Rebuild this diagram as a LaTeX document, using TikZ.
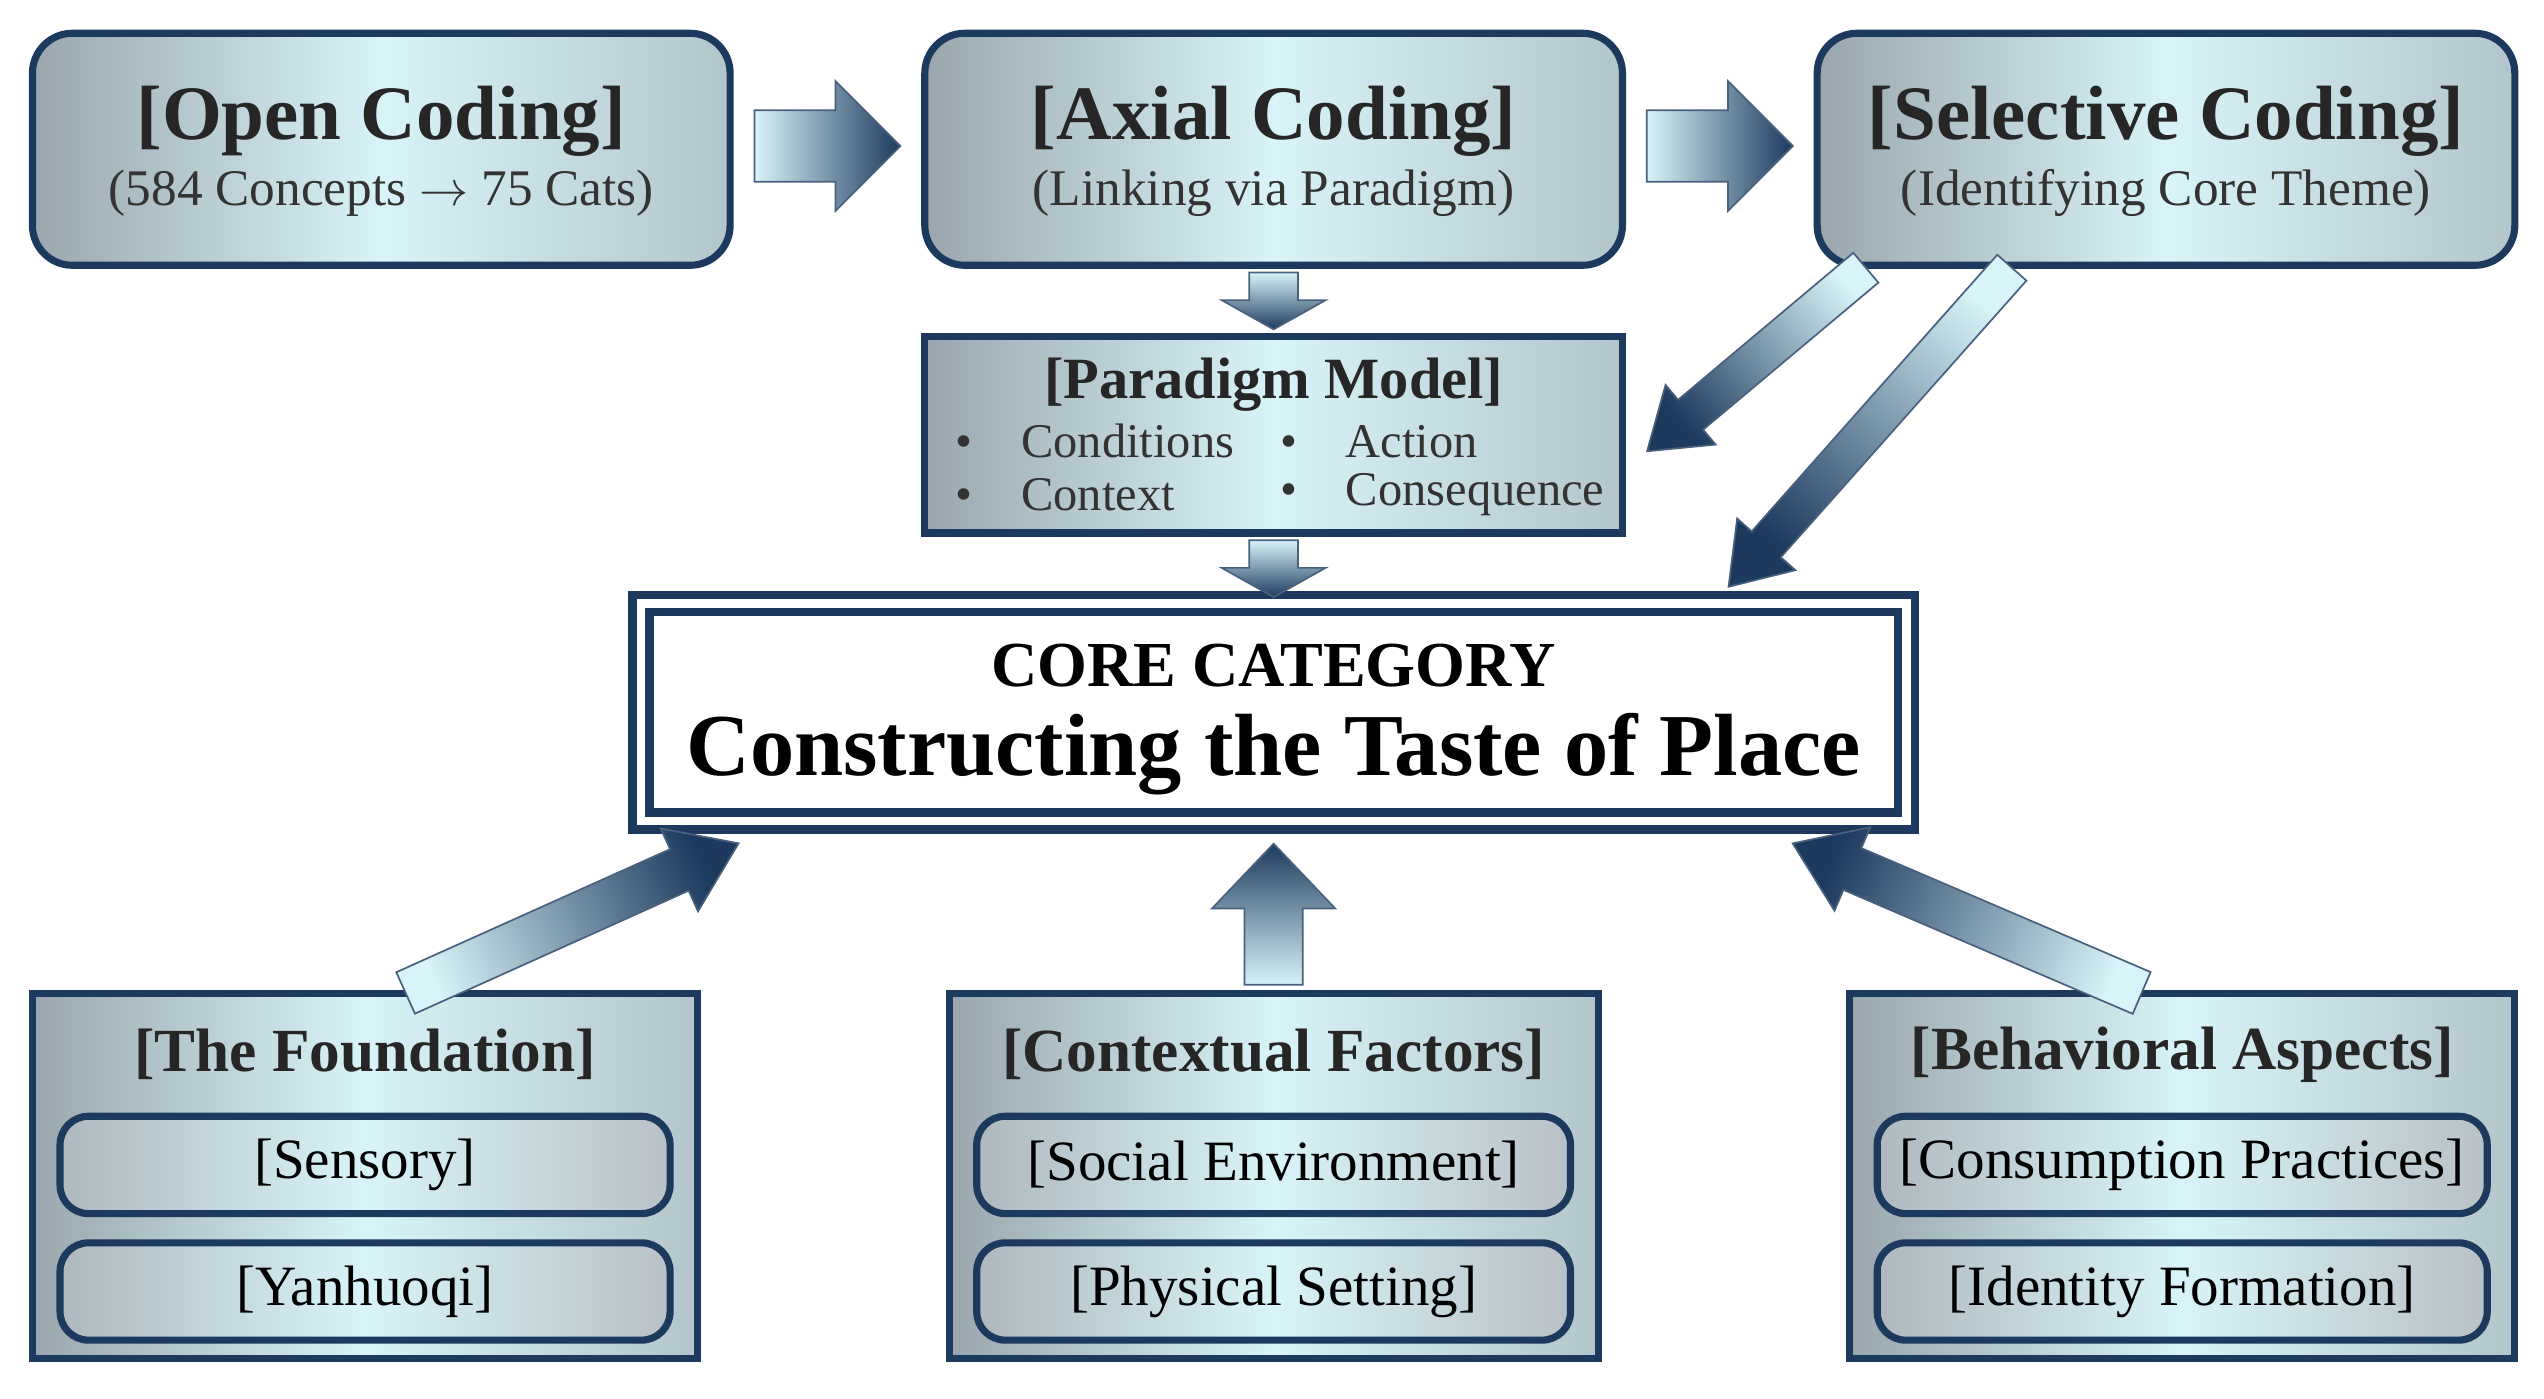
\documentclass[tikz,border=0pt]{standalone}
\usepackage{fontspec}
\setmainfont{Liberation Serif}
\begin{document}
\definecolor{navy}{HTML}{1C3A5E}
\definecolor{lcyan}{HTML}{D8F4F8}
\definecolor{gbox}{HTML}{9AA6AE}
\tikzset{
 box/.style={draw=navy,line width=2.5pt,left color=gbox,right color=gbox!60!lcyan,middle color=lcyan,align=center,inner sep=0pt},
 rbox/.style={box,rounded corners=14pt},
 ibox/.style={draw=navy,line width=2.5pt,rounded corners=10pt,left color=gbox!80,right color=gbox!70,middle color=lcyan,minimum width=376*0.02cm,minimum height=60*0.02cm,font=\fontsize{20}{22}\selectfont},
 ttl/.style={font=\fontsize{27}{30}\selectfont\bfseries,text=black!85},
 sub/.style={font=\fontsize{18}{21}\selectfont,text=black!80},
 arr/.style={left color=navy,right color=lcyan,draw=navy!80,line width=0.6pt}
}
\newcommand\barrow[7]{% x,y,angle,L,shaft,head,headlen
 \begin{scope}[shift={(#1,#2)},rotate=#3]
 \shade[arr,shading angle=#3-90] (0,-#5)--(#4-#7,-#5)--(#4-#7,-#6)--(#4,0)--(#4-#7,#6)--(#4-#7,#5)--(0,#5)--cycle;
 \end{scope}}
\begin{tikzpicture}[x=0.02cm,y=-0.02cm]
\useasboundingbox[fill=white] (0,0) rectangle (1568,862);
% top boxes
\node[rbox,minimum width=430*0.02cm,minimum height=143*0.02cm] (open) at (235,92) {};
\node[rbox,minimum width=430*0.02cm,minimum height=143*0.02cm] (axial) at (785,92) {};
\node[rbox,minimum width=430*0.02cm,minimum height=143*0.02cm] (sel) at (1335,92) {};
\node[ttl] (t1) at (235,75) {[Open Coding]};
\node[sub] (s1) at (235,119) {(584 Concepts $\rightarrow$ 75 Cats)};
\node[ttl] (t2) at (785,75) {[Axial Coding]};
\node[sub] (s2) at (785,119) {(Linking via Paradigm)};
\node[ttl] (t3) at (1335,75) {[Selective Coding]};
\node[sub] (s3) at (1335,119) {(Identifying Core Theme)};
% paradigm
\node[box,minimum width=430*0.02cm,minimum height=121*0.02cm] (par) at (785,268) {};
\node[font=\fontsize{20.5}{23}\selectfont\bfseries,text=black!85] (pt) at (785,237) {[Paradigm Model]};
\node[sub,font=\fontsize{17}{20}\selectfont,anchor=west] (b1) at (583,272) {\textbullet\quad Conditions};
\node[sub,font=\fontsize{17}{20}\selectfont,anchor=west] (b2) at (583,305) {\textbullet\quad Context};
\node[sub,font=\fontsize{17}{20}\selectfont,anchor=west] (b3) at (783,272) {\textbullet\quad Action};
\node[sub,font=\fontsize{17}{20}\selectfont,anchor=west] (b4) at (783,305) {\textbullet\quad Consequence};
% core
\node[draw=navy,line width=3pt,double=white,double distance=3pt,fill=white,minimum width=780*0.02cm,minimum height=134*0.02cm] (core) at (785,439) {};
\node[font=\fontsize{22.5}{26}\selectfont\bfseries] (cc) at (785,410) {CORE CATEGORY};
\node[font=\fontsize{31}{35}\selectfont\bfseries] (ct) at (785,465) {Constructing the Taste of Place};
% bottom boxes
\foreach \n/\x/\w/\t/\a/\b in {f/225/410/The Foundation/Sensory/Yanhuoqi, c/785/400/Contextual Factors/Social Environment/Physical Setting, b/1345/410/Behavioral Aspects/Consumption Practices/Identity Formation}{
 \node[box,minimum width=\w*0.02cm,minimum height=225*0.02cm] (\n) at (\x,725) {};
 \node[ttl,font=\fontsize{21.5}{24}\selectfont\bfseries] (\n t) at (\x,650) {[\t]};
 \node[ibox,minimum width=(\w-34)*0.02cm] (\n1) at (\x,718) {[\a]};
 \node[ibox,minimum width=(\w-34)*0.02cm] (\n2) at (\x,796) {[\b]};
}
% arrows
\barrow{465}{90}{0}{90}{22}{40}{40}
\barrow{1015}{90}{0}{90}{22}{40}{40}
\barrow{785}{168}{-90}{35}{15}{32}{18}
\barrow{785}{333}{-90}{35}{15}{32}{18}
\barrow{1150}{165}{220}{176}{12}{24}{35}
\barrow{1240}{165}{228.4}{263}{12}{24}{35}
\barrow{250}{612}{24.2}{225}{14}{28}{40}
\barrow{785}{607}{90}{87}{18}{38}{40}
\barrow{1320}{612}{156.8}{234}{14}{28}{40}
\end{tikzpicture}
\end{document}
